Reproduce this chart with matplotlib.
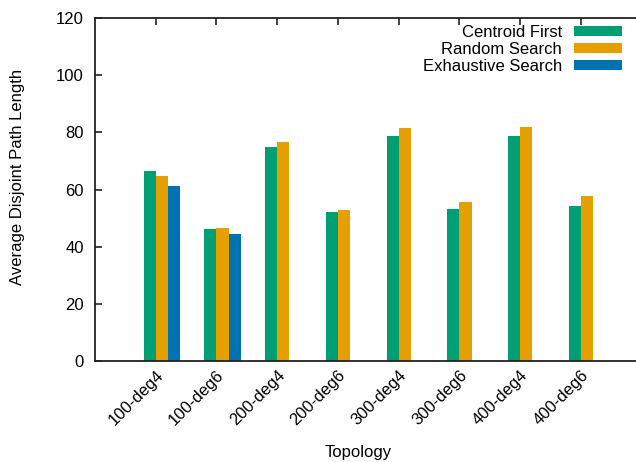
import numpy as np
import matplotlib
matplotlib.use("Agg")
import matplotlib.pyplot as plt

plt.rcParams['font.family'] = ['Liberation Sans', 'DejaVu Sans']

topologies = ["100-deg4", "100-deg6", "200-deg4", "200-deg6",
              "300-deg4", "300-deg6", "400-deg4", "400-deg6"]
centroid_first = [66.4, 46.2, 74.9, 52.1, 78.6, 53.3, 78.8, 54.1]
random_search = [64.8, 46.5, 76.6, 52.8, 81.5, 55.5, 82.0, 57.7]
exhaustive_search = [61.2, 44.5]

series_names = ["Centroid First", "Random Search", "Exhaustive Search"]
colors = ["#009E73", "#E69F00", "#0072B2"]

FS = 12
W, H = 636, 462
fig = plt.figure(figsize=(W / 100, H / 100), dpi=100)
ax = fig.add_axes([95 / W, (H - 361) / H, (641.6 - 95) / W, (361 - 18) / H])

bw = 0.2
x = np.arange(len(topologies))
series = [centroid_first, random_search, exhaustive_search]
offsets = [-0.1, 0.1, 0.3]
for vals, off, c, name in zip(series, offsets, colors, series_names):
    xs = x[:len(vals)] + off
    ax.bar(xs, vals, width=bw, color=c, linewidth=0, label=name, zorder=2)

ax.set_xlim(-1.0, 8.0)
ax.set_ylim(0, 120)
ax.set_yticks(np.arange(0, 121, 20))
ax.set_xticks(x)
ax.set_xticklabels(topologies, rotation=45, ha='right', va='top',
                   rotation_mode='anchor', fontsize=FS)
ax.tick_params(axis='y', labelsize=FS, direction='in', length=5, width=1.2,
               pad=8, colors='#222222', labelcolor='black', right=False)
ax.tick_params(axis='x', direction='in', length=5, width=1.2, pad=5,
               top=True, colors='#222222', labelcolor='black')
for side in ['left', 'bottom', 'top', 'right']:
    ax.spines[side].set_linewidth(1.3)
    ax.spines[side].set_color('#222222')

fig.text(18 / W, 1 - 177 / H, "Average Disjoint Path Length", rotation=90,
         ha='center', va='center', fontsize=FS)
fig.text(358 / W, 1 - 452 / H, "Topology", ha='center', va='center', fontsize=FS)

leg = ax.legend(loc='upper right', bbox_to_anchor=(622 / W, 1 - 25 / H),
                bbox_transform=fig.transFigure, frameon=False, fontsize=FS,
                markerfirst=False, handlelength=2.9, handleheight=0.55,
                labelspacing=0.12, handletextpad=0.7, borderpad=0, borderaxespad=0)
for t in leg.get_texts():
    t.set_ha('right')
leg._legend_box.align = 'right'

fig.savefig("out.png", dpi=100)
